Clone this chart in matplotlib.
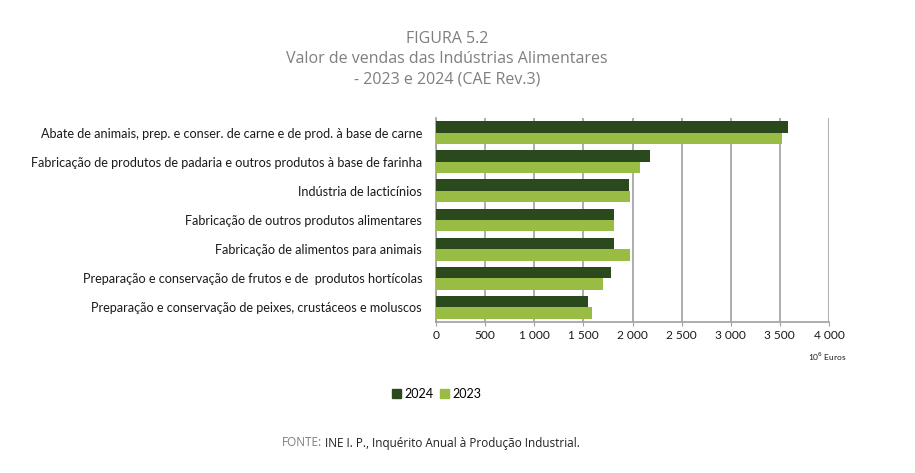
import numpy as np
import matplotlib
matplotlib.use('Agg')
import matplotlib.pyplot as plt
from matplotlib.ticker import FuncFormatter
from matplotlib.patches import Patch

# data (10^6 euros)
categorias = ['Abate de animais, prep. e conser. de carne e de prod. à base de carne',
              'Fabricação de produtos de padaria e outros produtos à base de farinha',
              'Indústria de lacticínios',
              'Fabricação de outros produtos alimentares',
              'Fabricação de alimentos para animais',
              'Preparação e conservação de frutos e de  produtos hortícolas',
              'Preparação e conservação de peixes, crustáceos e moluscos']
v2024 = [3580, 2176, 1963, 1810, 1807, 1780, 1549]
v2023 = [3519, 2078, 1976, 1807, 1976, 1702, 1583]
xticks = [0, 500, 1000, 1500, 2000, 2500, 3000, 3500, 4000]

dark = '#2a4a1e'
light = '#99bd44'
grey_txt = '#7f7f7f'
title_font = ['Open Sans', 'DejaVu Sans']

plt.rcParams['font.family'] = ['Lato', 'DejaVu Sans']

fig = plt.figure(figsize=(9.15, 4.73), dpi=100)
ax = fig.add_axes([436/915, 1-322/473, 393/915, 204/473])

y = np.arange(len(categorias))
h = 0.39
ax.barh(y - h/2, v2024, height=h, color=dark, label='2024', zorder=3)
ax.barh(y + h/2, v2023, height=h, color=light, label='2023', zorder=3)

ax.set_ylim(len(categorias) - 0.5, -0.5)
ax.set_xlim(0, 4000)
ax.set_xticks(xticks)
ax.xaxis.set_major_formatter(FuncFormatter(lambda v, p: '{:,}'.format(int(v)).replace(',', ' ')))
ax.set_yticks(y)
ax.set_yticklabels(categorias, fontsize=9.1, color='#1a1a1a')
ax.tick_params(axis='y', length=0, pad=10)
ax.tick_params(axis='x', length=3, color='#a0a0a0', labelsize=8.6, labelcolor='#1a1a1a', pad=3)
ax.grid(axis='x', color='#a0a0a0', linewidth=1.2, zorder=0)
for s in ['top', 'right']:
    ax.spines[s].set_visible(False)
for s in ['left', 'bottom']:
    ax.spines[s].set_color('#a0a0a0')
    ax.spines[s].set_linewidth(1.2)

fig.text(827/915, 1-357/473, '10$^6$ Euros', fontsize=6, ha='center', va='center', color='#1a1a1a')

# title (three lines, baselines)
titulo = ['FIGURA 5.2', 'Valor de vendas das Indústrias Alimentares', '- 2023 e 2024 (CAE Rev.3)']
for linha, yb in zip(titulo, [43, 63, 83]):
    fig.text(447/915, 1-yb/473, linha, fontsize=11.5, ha='center', va='baseline',
             color=grey_txt, family=title_font)

# legend
handles = [Patch(color=dark, label='2024'), Patch(color=light, label='2023')]
fig.legend(handles=handles, loc='center', bbox_to_anchor=(437/915, 1-394/473), ncol=2,
           frameon=False, fontsize=9, handlelength=0.7, handleheight=0.7,
           handletextpad=0.3, columnspacing=0.5)

# source
t = fig.text(282/915, 1-443/473, 'FONTE:', fontsize=8.5, ha='left', va='center',
             color=grey_txt, family=title_font)
fig.canvas.draw()
bb = t.get_window_extent()
fig.text((bb.x1 + 3)/915, 1-443/473, 'INE I. P., Inquérito Anual à Produção Industrial.', fontsize=8.5,
         ha='left', va='center', color='#222222', family=title_font)

fig.savefig('out.png', dpi=100)
